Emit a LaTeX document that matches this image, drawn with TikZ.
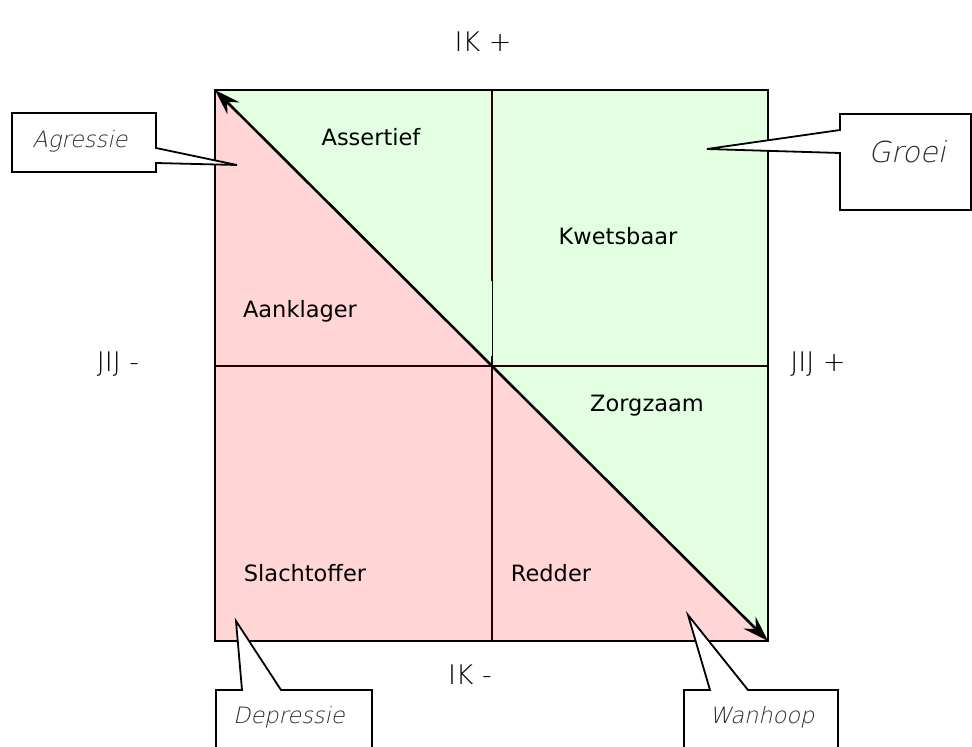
\documentclass[tikz,border=0pt]{standalone}
\usepackage{fontspec}
\setmainfont{DejaVu Sans}
\IfFontExistsTF{DejaVu Sans ExtraLight}{%
  \newfontfamily\thinf{DejaVu Sans ExtraLight}%
  \newfontfamily\thinit[FakeSlant=0.22]{DejaVu Sans ExtraLight}}{%
  \newfontfamily\thinf{DejaVu Sans}%
  \newfontfamily\thinit[FakeSlant=0.22]{DejaVu Sans}}
\usetikzlibrary{arrows.meta}
\definecolor{pinkf}{RGB}{255,213,213}
\definecolor{greenf}{RGB}{226,255,226}
\definecolor{txtgrey}{RGB}{45,45,45}
\begin{document}
\begin{tikzpicture}[x=1pt,y=-1pt,
  outer/.style={font=\thinf\fontsize{27}{30}\selectfont, text=black},
  inner/.style={font=\fontsize{22.5}{26}\selectfont, text=black},
  callout/.style={draw=black, line width=1.8pt, fill=white, line join=miter},
  ctext/.style={font=\thinit\fontsize{22.5}{25}\selectfont, text=txtgrey},
  grid/.style={line width=1.8pt, draw=black!85!red},
  tip/.style={Stealth[length=26pt,width=17pt,inset=9pt]},
]
\useasboundingbox (0,0) rectangle (972,747);
% corners
\coordinate (tl) at (215,90);
\coordinate (tr) at (768,90);
\coordinate (bl) at (215,641);
\coordinate (br) at (768,641);
\coordinate (c) at (492,366);
% fills
\fill[pinkf] (tl) -- (br) -- (bl) -- cycle;
\fill[greenf] (tl) -- (tr) -- (br) -- cycle;
% grid lines
\draw[grid] (215,366) -- (768,366);
\draw[grid] (492,90) -- (492,281);
\draw[line width=0.8pt] (492,281) -- (492,356);
\draw[grid] (492,356) -- (492,641);
% border
\draw[line width=2.8pt] (tl) rectangle (br);
% diagonal
\draw[line width=2.6pt, {Stealth[length=26pt,width=17pt,inset=9pt]}-{Stealth[length=26pt,width=17pt,inset=9pt]}] (tl) -- (br);
% outer labels
\node[outer] (ikp) at (483,42) {IK +};
\node[outer] (ikm) at (470,675) {IK -};
\node[outer] (jijm) at (118,364) {JIJ -};
\node[outer] (jijp) at (818,364) {JIJ +};
% inner labels
\node[inner] (ass) at (371,137) {Assertief};
\node[inner] (kwe) at (618,236) {Kwetsbaar};
\node[inner] (aan) at (300,311) {Aanklager};
\node[inner] (zor) at (647,406) {Zorgzaam};
\node[inner] (sla) at (305,573) {Slachtoffer};
\node[inner] (red) at (551,573) {Redder};
% callouts
\draw[callout] (12,113) -- (156,113) -- (156,148) -- (237,165) -- (156,163) -- (156,172) -- (12,172) -- cycle;
\node[ctext] (agr) at (80,141) {Agressie};
\draw[callout] (840,114) -- (971,114) -- (971,210) -- (840,210) -- (840,153) -- (707,149) -- (840,130) -- cycle;
\node[ctext, font=\thinit\fontsize{29}{31}\selectfont] (gro) at (907,152) {Groei};
\draw[callout] (216,760) -- (216,690) -- (242,690) -- (236,621) -- (281,690) -- (372,690) -- (372,760);
\node[ctext] (dep) at (289,717) {Depressie};
\draw[callout] (684,760) -- (684,690) -- (710,690) -- (688,615) -- (748,690) -- (838,690) -- (838,760);
\node[ctext] (wan) at (762,717) {Wanhoop};
\end{tikzpicture}
\end{document}
